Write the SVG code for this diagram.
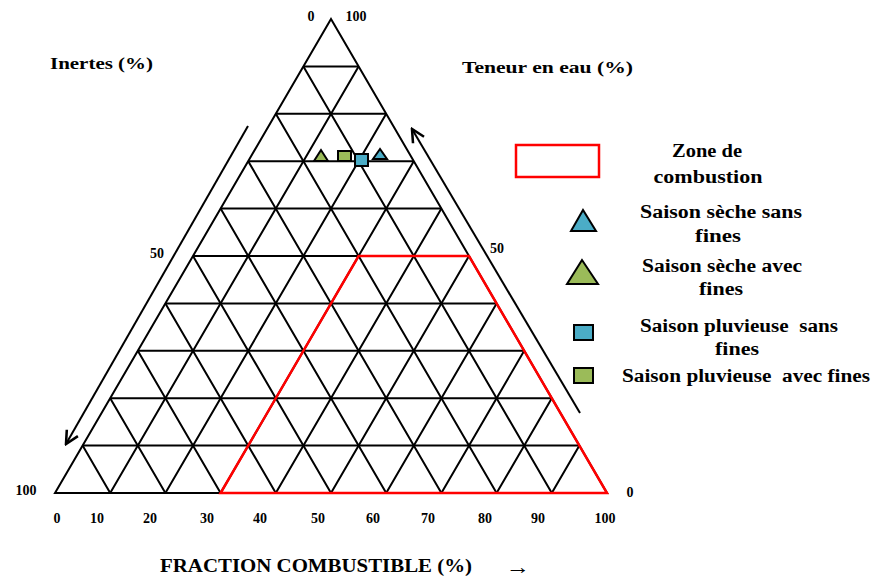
<svg xmlns="http://www.w3.org/2000/svg" width="872" height="578" viewBox="0 0 872 578">
<defs>
<style>
.t{font-family:'Liberation Serif','Times New Roman',serif;font-weight:bold;fill:#000}
.g{stroke:#000;stroke-width:2;fill:none}
.red{stroke:#f00;stroke-width:2.5;fill:none}
.blue{fill:#4BACC6;stroke:#000;stroke-width:2}
.green{fill:#9BBB59;stroke:#000;stroke-width:2}
</style>
<marker id="ah" viewBox="0 0 10 10" refX="9" refY="5" markerWidth="8" markerHeight="8" orient="auto">
<path d="M1,1 L9,5 L1,9" fill="none" stroke="#000" stroke-width="1.6"/>
</marker>
</defs>
<rect width="872" height="578" fill="#fff"/>
<g id="grid">
<path class="g" d="M331,19 L607,493 L55,493 Z"/>
<path class="g" d="M303.4,66.4H358.6M275.8,113.8H386.2M248.2,161.2H413.8M220.6,208.6H441.4M193,256H469M165.4,303.4H496.6M137.8,350.8H524.2M110.2,398.2H551.8M82.6,445.6H579.4"/>
<path class="g" d="M110.2,493L358.6,66.4M165.4,493L386.2,113.8M220.6,493L413.8,161.2M275.8,493L441.4,208.6M331,493L469,256M386.2,493L496.6,303.4M441.4,493L524.2,350.8M496.6,493L551.8,398.2M551.8,493L579.4,445.6"/>
<path class="g" d="M110.2,493L82.6,445.6M165.4,493L110.2,398.2M220.6,493L137.8,350.8M275.8,493L165.4,303.4M331,493L193,256M386.2,493L220.6,208.6M441.4,493L248.2,161.2M496.6,493L275.8,113.8M551.8,493L303.4,66.4"/>
</g>
<g id="zone">
<path class="red" d="M220.6,493 L358.6,256 L469,256 L607,493 Z"/>
</g>
<g id="connectors">
<line x1="248" y1="126" x2="66" y2="444" stroke="#000" stroke-width="2" marker-end="url(#ah)"/>
<line x1="580" y1="413" x2="412" y2="129" stroke="#000" stroke-width="2" marker-end="url(#ah)"/>
</g>
<g id="points">
<polygon class="green" points="321,150 314,161 328,161"/>
<rect class="green" x="338" y="151" width="13" height="10"/>
<rect class="blue" x="355" y="154" width="13" height="12"/>
<polygon class="blue" points="380,149 373,159 387,159"/>
</g>
<g id="axis-labels" font-family="Liberation Serif, serif" font-weight="bold">
<text class="t" x="311" y="21" font-size="14" text-anchor="middle">0</text>
<text class="t" x="356" y="21" font-size="14" text-anchor="middle">100</text>
<text class="t" x="50" y="69" font-size="17" textLength="103" lengthAdjust="spacingAndGlyphs">Inertes (%)</text>
<text class="t" x="462" y="73" font-size="17" textLength="171" lengthAdjust="spacingAndGlyphs">Teneur en eau (%)</text>
<text class="t" x="157" y="258" font-size="14" text-anchor="middle">50</text>
<text class="t" x="497" y="253" font-size="14" text-anchor="middle">50</text>
<text class="t" x="26" y="495" font-size="14" text-anchor="middle">100</text>
<text class="t" x="630" y="497" font-size="14" text-anchor="middle">0</text>
<text class="t" x="57" y="523" font-size="14" text-anchor="middle">0</text>
<text class="t" x="97" y="523" font-size="14" text-anchor="middle">10</text>
<text class="t" x="150" y="523" font-size="14" text-anchor="middle">20</text>
<text class="t" x="207" y="523" font-size="14" text-anchor="middle">30</text>
<text class="t" x="260" y="523" font-size="14" text-anchor="middle">40</text>
<text class="t" x="318" y="523" font-size="14" text-anchor="middle">50</text>
<text class="t" x="373" y="523" font-size="14" text-anchor="middle">60</text>
<text class="t" x="428" y="523" font-size="14" text-anchor="middle">70</text>
<text class="t" x="485" y="523" font-size="14" text-anchor="middle">80</text>
<text class="t" x="538" y="523" font-size="14" text-anchor="middle">90</text>
<text class="t" x="605" y="523" font-size="14" text-anchor="middle">100</text>
<text class="t" x="160" y="572" font-size="18" textLength="312" lengthAdjust="spacingAndGlyphs">FRACTION COMBUSTIBLE (%)</text>
<text class="t" x="518" y="574" font-size="22" text-anchor="middle" textLength="24" lengthAdjust="spacingAndGlyphs">→</text>
</g>
<g id="legend" font-family="Liberation Serif, serif" font-weight="bold">
<rect x="516" y="145" width="83" height="32" fill="none" stroke="#f00" stroke-width="2.5"/>
<text class="t" x="707" y="157" font-size="18" text-anchor="middle" textLength="70" lengthAdjust="spacingAndGlyphs">Zone de</text>
<text class="t" x="708" y="183" font-size="18" text-anchor="middle" textLength="109" lengthAdjust="spacingAndGlyphs">combustion</text>
<polygon class="blue" points="583,210 571,231 596,231"/>
<text class="t" x="721" y="218" font-size="18" text-anchor="middle" textLength="162" lengthAdjust="spacingAndGlyphs">Saison sèche sans</text>
<text class="t" x="718" y="242" font-size="18" text-anchor="middle" textLength="46" lengthAdjust="spacingAndGlyphs">fines</text>
<polygon class="green" points="582,260 567,284 598,284"/>
<text class="t" x="722" y="272" font-size="18" text-anchor="middle" textLength="160" lengthAdjust="spacingAndGlyphs">Saison sèche avec</text>
<text class="t" x="721" y="295" font-size="18" text-anchor="middle" textLength="44" lengthAdjust="spacingAndGlyphs">fines</text>
<rect class="blue" x="574" y="325" width="19" height="15"/>
<text class="t" x="739" y="332" font-size="18" text-anchor="middle" textLength="198" lengthAdjust="spacingAndGlyphs" xml:space="preserve">Saison pluvieuse  sans</text>
<text class="t" x="737" y="355" font-size="18" text-anchor="middle" textLength="44" lengthAdjust="spacingAndGlyphs">fines</text>
<rect class="green" x="574" y="368" width="19" height="15"/>
<text class="t" x="746" y="382" font-size="18" text-anchor="middle" textLength="248" lengthAdjust="spacingAndGlyphs" xml:space="preserve">Saison pluvieuse  avec fines</text>
</g>
</svg>
